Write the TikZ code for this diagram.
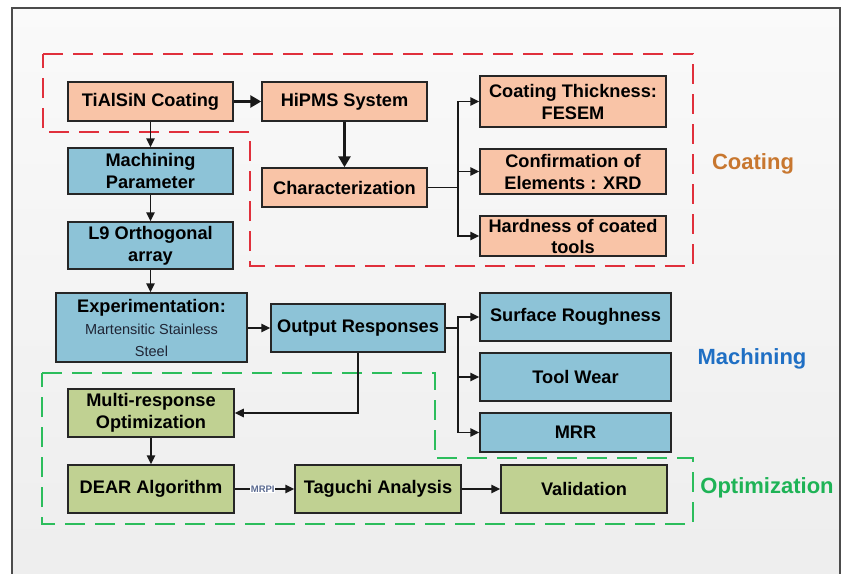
\documentclass[tikz,border=0pt]{standalone}
\usepackage{fontspec}
\setmainfont{Liberation Sans}
\usetikzlibrary{arrows.meta}
\definecolor{peach}{HTML}{F9C4A7}
\definecolor{skyb}{HTML}{8DC3D7}
\definecolor{olive}{HTML}{C0D192}
\definecolor{redd}{HTML}{E0303C}
\definecolor{grn}{HTML}{2CBD5C}
\definecolor{lblorange}{HTML}{C8772F}
\definecolor{lblblue}{HTML}{1F6FC4}
\definecolor{lblgreen}{HTML}{1EB356}
\definecolor{smallgray}{HTML}{1F2535}
\definecolor{mrpicol}{HTML}{5A6A90}
\newcommand{\smtxt}{\fontsize{14.5}{20}\selectfont\mdseries\color{smallgray}}
\tikzset{
  box/.style={draw=black!85, line width=1.5pt, rectangle, align=center, inner sep=1pt,
    font=\fontsize{18.2}{22}\selectfont\bfseries},
  orbox/.style={box, fill=peach},
  blbox/.style={box, fill=skyb},
  grbox/.style={box, fill=olive},
  conn/.style={line width=1.6pt, black!90, -{Triangle[length=9pt,width=8.5pt]}},
  thickconn/.style={line width=2.8pt, black!90, -{Triangle[length=11pt,width=12pt]}},
  line/.style={line width=1.6pt, black!90},
  region/.style={line width=2pt, dash pattern=on 20pt off 10pt},
  lbl/.style={font=\fontsize{22}{26}\selectfont\bfseries}
}
\begin{document}
\begin{tikzpicture}[x=1pt,y=-1pt]
\useasboundingbox (0,0) rectangle (843,573);
\clip (0,0) rectangle (843,573);
\fill[white] (0,0) rectangle (843,573);
\shade[top color=black!2, bottom color=black!7] (12,8) rectangle (840,590);
\draw[black!70, line width=2pt] (12,590) -- (12,8) -- (840,8) -- (840,590);

% regions
\draw[region, redd] (43,54) -- (693,54) -- (693,266) -- (250,266) -- (250,132) -- (43,132) -- cycle;
\draw[region, grn] (42,373) -- (435,373) -- (435,458) -- (693,458) -- (693,524) -- (42,524) -- cycle;

% nodes
\node[orbox, minimum width=165pt, minimum height=39pt] (tialsin) at (150.5,101.5) {TiAlSiN Coating};
\node[orbox, minimum width=165pt, minimum height=39pt] (hipms) at (344.5,101.5) {HiPMS System};
\node[blbox, minimum width=165pt, minimum height=46pt] (machpar) at (150.5,171) {Machining\\Parameter};
\node[orbox, minimum width=165pt, minimum height=39pt] (charac) at (344.5,187.5) {Characterization};
\node[blbox, minimum width=165pt, minimum height=47pt] (l9) at (150.5,245.5) {L9 Orthogonal\\array};
\node[orbox, minimum width=186pt, minimum height=51pt] (thick) at (573,101.5) {Coating Thickness:\\FESEM};
\node[orbox, minimum width=186pt, minimum height=45pt] (confirm) at (573,171.5) {Confirmation of\\Elements : XRD};
\node[orbox, minimum width=186pt, minimum height=40pt, font=\fontsize{18.2}{21}\selectfont\bfseries] (hard) at (573,236) {Hardness of coated\\tools};
\node[blbox, minimum width=191pt, minimum height=69pt] (exper) at (151.5,327.5)
  {Experimentation:\\\smtxt Martensitic Stainless\\\smtxt Steel};
\node[blbox, minimum width=174pt, minimum height=48pt] (output) at (358,328) {Output Responses};
\node[blbox, minimum width=191pt, minimum height=48pt] (surf) at (575.5,317) {Surface Roughness};
\node[blbox, minimum width=191pt, minimum height=48pt] (wear) at (575.5,377) {Tool Wear};
\node[blbox, minimum width=191pt, minimum height=39pt] (mrr) at (575.5,432.5) {MRR};
\node[grbox, minimum width=166pt, minimum height=48pt] (multi) at (151,413) {Multi-response\\Optimization};
\node[grbox, minimum width=166pt, minimum height=48pt] (dear) at (151,489) {DEAR Algorithm};
\node[grbox, minimum width=166pt, minimum height=48pt] (taguchi) at (378,489) {Taguchi Analysis};
\node[grbox, minimum width=166pt, minimum height=48pt] (valid) at (584,489) {Validation};

% labels
\node[lbl, text=lblorange] (lcoat) at (753,164) {Coating};
\node[lbl, text=lblblue] (lmach) at (752,359) {Machining};
\node[lbl, text=lblgreen] (lopt) at (767,488) {Optimization};

% connectors
\draw[thickconn] (tialsin.east) -- (hipms.west);
\draw[thickconn] (hipms.south) -- (charac.north);
\draw[conn] (tialsin.south) -- (machpar.north);
\draw[conn] (machpar.south) -- (l9.north);
\draw[conn] (l9.south) -- (l9.south |- exper.north);
\draw[conn] (exper.east |- output.west) -- (output.west);

\coordinate (cb) at (458,187.5);
\draw[line] (charac.east) -- (cb);
\draw[conn] (cb) |- (thick.west);
\draw[conn] (cb) |- (confirm.west);
\draw[conn] (cb) |- (hard.west);

\coordinate (ob) at (458,328);
\draw[line] (output.east) -- (ob);
\draw[conn] (ob) |- (surf.west);
\draw[conn] (ob) |- (wear.west);
\draw[conn] (ob) |- (mrr.west);

\draw[conn] (output.south) |- (multi.east);
\draw[conn] (multi.south) -- (dear.north);
\draw[conn] (dear.east) -- node[pos=0.47, fill=white, inner sep=0.5pt, font=\fontsize{9.5}{10}\selectfont\bfseries, text=mrpicol] (mrpi) {MRPI} (taguchi.west);
\draw[conn] (taguchi.east) -- (valid.west);
\end{tikzpicture}
\end{document}
